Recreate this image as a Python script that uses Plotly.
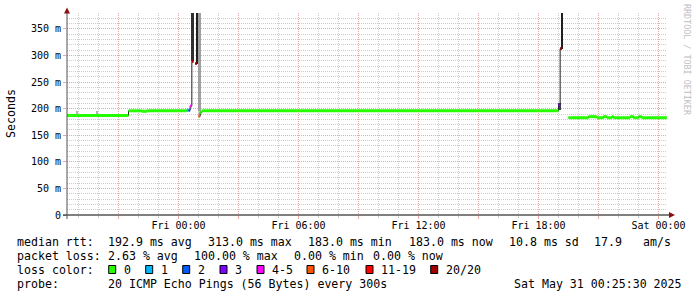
import plotly.graph_objects as go

# ---------------- data ----------------
# median rtt steps: start time, median (ms, None = unknown), loss category index
step_start = [
    "2025-05-29 18:25:30", "2025-05-29 21:30", "2025-05-29 22:10", "2025-05-29 22:25",
    "2025-05-30 00:25", "2025-05-30 00:30", "2025-05-30 00:35", "2025-05-30 00:40",
    "2025-05-30 00:45", "2025-05-30 00:50", "2025-05-30 00:55", "2025-05-30 01:00",
    "2025-05-30 01:05", "2025-05-30 01:10", "2025-05-30 19:00", "2025-05-30 19:05",
    "2025-05-30 19:10", "2025-05-30 19:30", "2025-05-30 20:30", "2025-05-30 20:55",
    "2025-05-30 21:15", "2025-05-30 21:25", "2025-05-30 21:40", "2025-05-30 21:45",
    "2025-05-30 22:35", "2025-05-30 22:45", "2025-05-30 23:00", "2025-05-30 23:10",
]
data_end = "2025-05-31 00:25"
median_ms = [
    187, 196, 195, 196,
    197, 197, 205, 289,
    None, 285, None, 186,
    193, 196, 207, 313,
    None, 183, 185, 183,
    185, 183, 185, 183,
    185, 183, 185, 183,
]
loss_cat = [
    0, 0, 0, 0,
    1, 2, 4, 7,
    7, 7, 7, 5,
    0, 0, 3, 7,
    7, 0, 0, 0,
    0, 0, 0, 0,
    0, 0, 0, 0,
]

# smoke (ping spread): centre time, width (minutes), low ms, high ms, shade
smoke_time = ["2025-05-29 18:56", "2025-05-29 19:56", "2025-05-30 00:43",
              "2025-05-30 00:54:30", "2025-05-30 01:03:30", "2025-05-30 01:03:30",
              "2025-05-30 19:03:30", "2025-05-30 19:09:30"]
smoke_width_min = [3, 3, 9, 3, 9, 9, 9, 3]
smoke_low = [187, 187, 289, 285, 195, 186, 197, 313]
smoke_high = [195, 195, 1000, 1000, 1000, 195, 211, 1000]
smoke_shade = ["#b4b4b4", "#b4b4b4", "#303030", "#202020", "#a0a0a0", "#c8c8c8",
               "#404040", "#202020"]

loss_labels = ["0", "1", "2", "3", "4-5", "6-10", "11-19", "20/20"]
loss_colors = ["#26ff00", "#00b8ff", "#0059ff", "#7e00ff", "#ff00ff", "#ff5500",
               "#ff0000", "#a10000"]

x_tick_vals = ["2025-05-29 21:00", "2025-05-30 00:00", "2025-05-30 03:00",
               "2025-05-30 06:00", "2025-05-30 09:00", "2025-05-30 12:00",
               "2025-05-30 15:00", "2025-05-30 18:00", "2025-05-30 21:00",
               "2025-05-31 00:00"]
x_tick_text = ["", "Fri 00:00", "", "Fri 06:00", "", "Fri 12:00", "", "Fri 18:00",
               "", "Sat 00:00"]
y_tick_vals = [0, 50, 100, 150, 200, 250, 300, 350]
y_tick_text = ["0", "50 m", "100 m", "150 m", "200 m", "250 m", "300 m", "350 m"]

stats_rtt = [("median rtt:", 16), ("192.9 ms avg", 107), ("313.0 ms max", 207),
             ("183.0 ms min", 307), ("183.0 ms now", 408), ("10.8 ms sd", 508),
             ("17.9", 593), ("am/s", 642)]
stats_loss = [("packet loss:", 16), ("2.63 % avg", 107), ("100.00 % max", 193),
              ("0.00 % min", 293), ("0.00 % now", 372)]
probe_text = "20 ICMP Echo Pings (56 Bytes) every 300s"
date_text = "Sat May 31 00:25:30 2025"

# ---------------- layout constants ----------------
FIG_W, FIG_H = 697, 297
L, R_PX, T_PX, B_PX = 67, 667, 13, 215
PW, PH = R_PX - L, B_PX - T_PX
MONO = "DejaVu Sans Mono"
MAJ_GRID = "#e8a8a8"
MIN_GRID = "#cccccc"


def px_x(px):
    return (px - L) / PW


def px_y(py):
    return (B_PX - py) / PH


fig = go.Figure()

# smoke
fig.add_trace(go.Bar(
    x=smoke_time,
    base=smoke_low,
    y=[h - l for h, l in zip(smoke_high, smoke_low)],
    width=[w * 60000 for w in smoke_width_min],
    marker=dict(color=smoke_shade, line=dict(width=0)),
    hoverinfo="skip", showlegend=False,
))

# thin dark median line
ends = step_start[1:] + [data_end]
tx, ty = [], []
for s, e, v in zip(step_start, ends, median_ms):
    if v is None:
        tx.append(None)
        ty.append(None)
    else:
        tx += [s, e]
        ty += [v, v]
fig.add_trace(go.Scatter(x=tx, y=ty, mode="lines",
                         line=dict(color="#202020", width=1),
                         hoverinfo="skip", showlegend=False))

# loss-coloured median
for ci, col in enumerate(loss_colors):
    cx, cy = [], []
    for s, e, v, c in zip(step_start, ends, median_ms, loss_cat):
        if v is not None and c == ci:
            cx += [s, e, None]
            cy += [v, v, None]
    if cx:
        fig.add_trace(go.Scatter(x=cx, y=cy, mode="lines",
                                 line=dict(color=col, width=3),
                                 hoverinfo="skip", showlegend=False))

annotations = []
shapes = []

# axis lines and arrows
shapes.append(dict(type="line", xref="paper", yref="paper",
                   x0=px_x(63), x1=px_x(670), y0=0, y1=0,
                   line=dict(color="#000000", width=1)))
shapes.append(dict(type="line", xref="paper", yref="paper",
                   x0=0, x1=0, y0=px_y(219), y1=px_y(11),
                   line=dict(color="#505050", width=1)))
shapes.append(dict(type="path", xref="paper", yref="paper",
                   path="M {} {} L {} {} L {} {} Z".format(
                       px_x(64), px_y(13.5), px_x(70), px_y(13.5), px_x(67), px_y(7.5)),
                   fillcolor="#8b1010", line=dict(width=0)))
shapes.append(dict(type="path", xref="paper", yref="paper",
                   path="M {} {} L {} {} L {} {} Z".format(
                       px_x(669), px_y(212), px_x(669), px_y(218), px_x(675), px_y(215)),
                   fillcolor="#8b1010", line=dict(width=0)))

LEG_SIZE = 11.6
line_y = [241.8, 255.6, 269.6, 283.6]


def txt(text, x, y, size=LEG_SIZE, color="#000000"):
    annotations.append(dict(text=text, x=px_x(x), y=px_y(y), xref="paper", yref="paper",
                            xanchor="left", yanchor="middle", showarrow=False,
                            borderpad=0,
                            font=dict(family=MONO, size=size, color=color)))


for t, x in stats_rtt:
    txt(t, x, line_y[0])
for t, x in stats_loss:
    txt(t, x, line_y[1])
txt("loss color:", 16, line_y[2])
box_x = [108.7, 145.7, 182.7, 220, 257, 307, 366, 430.7]
for lbl, col, bx in zip(loss_labels, loss_colors, box_x):
    shapes.append(dict(type="rect", xref="paper", yref="paper",
                       x0=px_x(bx), x1=px_x(bx + 7), y0=px_y(273.5), y1=px_y(265.5),
                       fillcolor=col, line=dict(color="#000000", width=1)))
    txt(lbl, bx + 14.3, line_y[2])
txt("probe:", 16, line_y[3])
txt(probe_text, 107, line_y[3])
txt(date_text, 513, line_y[3])

# axis title
annotations.append(dict(text="Seconds", x=px_x(10.5), y=px_y(113.5), xref="paper",
                        yref="paper", xanchor="center", yanchor="middle",
                        textangle=-90, showarrow=False,
                        font=dict(family=MONO, size=11.6, color="#000000")))
# watermark
annotations.append(dict(text="RRDTOOL / TOBI OETIKER", x=px_x(687), y=px_y(60),
                        xref="paper", yref="paper", xanchor="center", yanchor="middle",
                        textangle=90, showarrow=False,
                        font=dict(family=MONO, size=8.4, color="#c0c0c0")))

fig.update_layout(
    width=FIG_W, height=FIG_H,
    margin=dict(l=L, r=FIG_W - R_PX, t=T_PX, b=FIG_H - B_PX, pad=0),
    paper_bgcolor="#ffffff", plot_bgcolor="#ffffff",
    barmode="overlay", bargap=0,
    showlegend=False,
    annotations=annotations, shapes=shapes,
    font=dict(family=MONO, size=10, color="#000000"),
)
fig.update_xaxes(
    type="date", range=["2025-05-29 18:25:30", "2025-05-31 00:25:30"],
    tickmode="array", tickvals=x_tick_vals, ticktext=x_tick_text,
    showgrid=True, gridcolor=MAJ_GRID, griddash="1px,1px", gridwidth=1,
    ticks="outside", ticklen=3, tickcolor=MAJ_GRID,
    ticklabelstandoff=-2,
    minor=dict(dtick=3600000, tick0="2025-05-29 00:00", showgrid=True,
               gridcolor=MIN_GRID, griddash="1px,1px", gridwidth=1,
               ticks="outside", ticklen=2, tickcolor=MIN_GRID),
    zeroline=False, showline=False,
    tickfont=dict(family=MONO, size=10, color="#000000"),
)
fig.update_yaxes(
    range=[0, 380],
    tickmode="array", tickvals=y_tick_vals, ticktext=y_tick_text,
    showgrid=True, gridcolor=MAJ_GRID, griddash="1px,1px", gridwidth=1,
    ticks="outside", ticklen=3, tickcolor=MAJ_GRID,
    minor=dict(dtick=10, tick0=0, showgrid=True,
               gridcolor=MIN_GRID, griddash="1px,1px", gridwidth=1),
    zeroline=False, showline=False,
    tickfont=dict(family=MONO, size=10, color="#000000"),
)

fig.write_html("out.html")
